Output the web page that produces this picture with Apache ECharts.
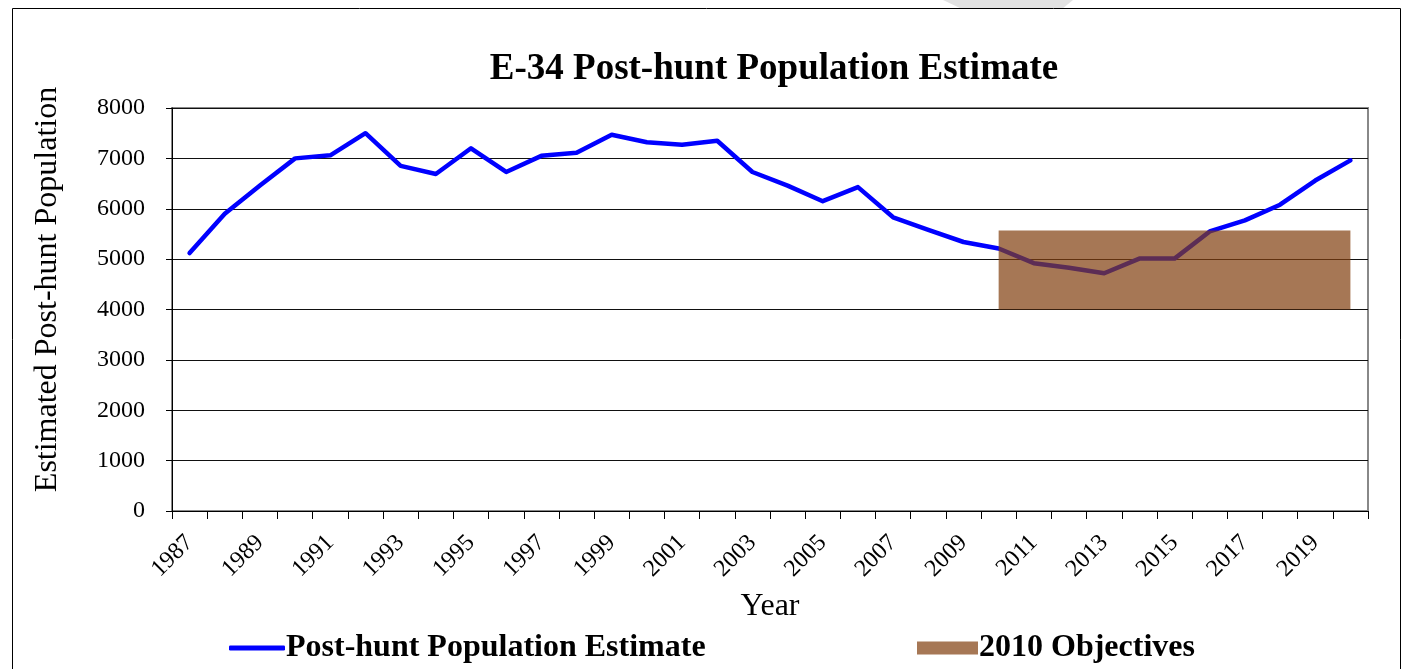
<!DOCTYPE html>
<html>
<head>
<meta charset="utf-8">
<script src="https://cdn.jsdelivr.net/npm/echarts@6/dist/echarts.min.js"></script>
<style>
html,body{margin:0;padding:0;background:#fff;}
#chart{width:1404px;height:669px;}
</style>
</head>
<body>
<div id="chart"></div>
<script>
var years = ['1987','1988','1989','1990','1991','1992','1993','1994','1995','1996','1997','1998','1999','2000','2001','2002','2003','2004','2005','2006','2007','2008','2009','2010','2011','2012','2013','2014','2015','2016','2017','2018','2019','2020'];
var population = [5120,5900,6460,7000,7060,7500,6850,6690,7200,6730,7050,7110,7470,7320,7270,7350,6730,6460,6150,6430,5830,5580,5340,5210,4920,4830,4720,5010,5010,5550,5770,6080,6560,6960];
var objectiveStart = '2010';
var objectiveEnd = '2020';
var objectiveLow = 4000;
var objectiveHigh = 5570;
var yTicks = [0,1000,2000,3000,4000,5000,6000,7000,8000];

var startIdx = years.indexOf(objectiveStart), endIdx = years.indexOf(objectiveEnd);
var objBase = years.map(function(y,i){ return (i>=startIdx && i<=endIdx) ? objectiveLow : null; });
var objBand = years.map(function(y,i){ return (i>=startIdx && i<=endIdx) ? (objectiveHigh - objectiveLow) : null; });

var serif = 'Liberation Serif';
var chart = echarts.init(document.getElementById('chart'));
chart.setOption({
  backgroundColor: '#fff',
  animation: false,
  title: {
    text: 'E-34 Post-hunt Population Estimate',
    left: 769, top: 46, textAlign: 'center',
    textStyle: {fontFamily: serif, fontWeight: 'bold', fontSize: 37, color: '#000'}
  },
  legend: [{
    data: [{name: 'Post-hunt Population Estimate', icon: 'roundRect'}],
    left: 229, top: 632, padding: 0, itemWidth: 56, itemHeight: 5, itemGap: 2,
    textStyle: {fontFamily: serif, fontWeight: 'bold', fontSize: 32, color: '#000', padding: [0,0,0,-4]}
  },{
    data: [{name: '2010 Objectives', icon: 'rect'}],
    left: 917, top: 632, padding: 0, itemWidth: 61, itemHeight: 13,
    textStyle: {fontFamily: serif, fontWeight: 'bold', fontSize: 32, color: '#000', padding: [0,0,0,-4]}
  }],
  grid: {left: 172, right: 36, top: 108, bottom: 158, show: true, borderColor: '#888', borderWidth: 2, backgroundColor: 'transparent'},
  xAxis: {
    type: 'category', data: years, boundaryGap: true,
    name: 'Year', nameLocation: 'middle', nameGap: 80,
    nameTextStyle: {fontFamily: serif, fontSize: 32, color: '#000'},
    axisLine: {lineStyle: {color: '#000', width: 1}},
    axisTick: {show: true, interval: 0, length: 8, inside: false, lineStyle: {color: '#000'}},
    axisLabel: {interval: 1, rotate: 45, margin: 28, fontFamily: serif, fontSize: 24, color: '#000'},
    splitLine: {show: false}
  },
  yAxis: {
    type: 'value', min: yTicks[0], max: yTicks[yTicks.length-1], interval: 1000,
    name: 'Estimated Post-hunt Population', nameLocation: 'middle', nameGap: 108, nameRotate: 90,
    nameTextStyle: {fontFamily: serif, fontSize: 32, color: '#000', padding: [0,0,0,40]},
    axisLine: {show: true, lineStyle: {color: '#000', width: 1}},
    axisTick: {show: true, length: 6, inside: false, lineStyle: {color: '#000'}},
    axisLabel: {margin: 27, fontFamily: serif, fontSize: 24, color: '#000',
      formatter: function(v){ return String(v); }},
    splitLine: {show: true, lineStyle: {color: '#111', width: 1}}
  },
  series: [{
    name: 'Post-hunt Population Estimate', type: 'line', data: population,
    color: '#0000ff', showSymbol: false, symbol: 'none', z: 2,
    lineStyle: {color: '#0000ff', width: 4.5, join: 'round', cap: 'round'}
  },{
    name: 'objBase', type: 'line', stack: 'obj', data: objBase, symbol: 'none',
    lineStyle: {width: 0, opacity: 0}, z: 3, silent: true
  },{
    name: '2010 Objectives', type: 'line', stack: 'obj', data: objBand, symbol: 'none',
    color: '#a67755', z: 3,
    lineStyle: {width: 0, opacity: 0},
    areaStyle: {color: 'rgba(130,63,15,0.71)', opacity: 1}
  }],
  graphic: [{
    type: 'polygon', z: -10,
    shape: {points: [[943,0],[1073,0],[1062,9],[962,9]]},
    style: {fill: '#e2e2e2'}
  },{
    type: 'rect', z: 100, silent: true,
    shape: {x: 12.5, y: 8.5, width: 1388, height: 700},
    style: {fill: 'none', stroke: '#000', lineWidth: 1}
  }]
});
</script>
</body>
</html>
